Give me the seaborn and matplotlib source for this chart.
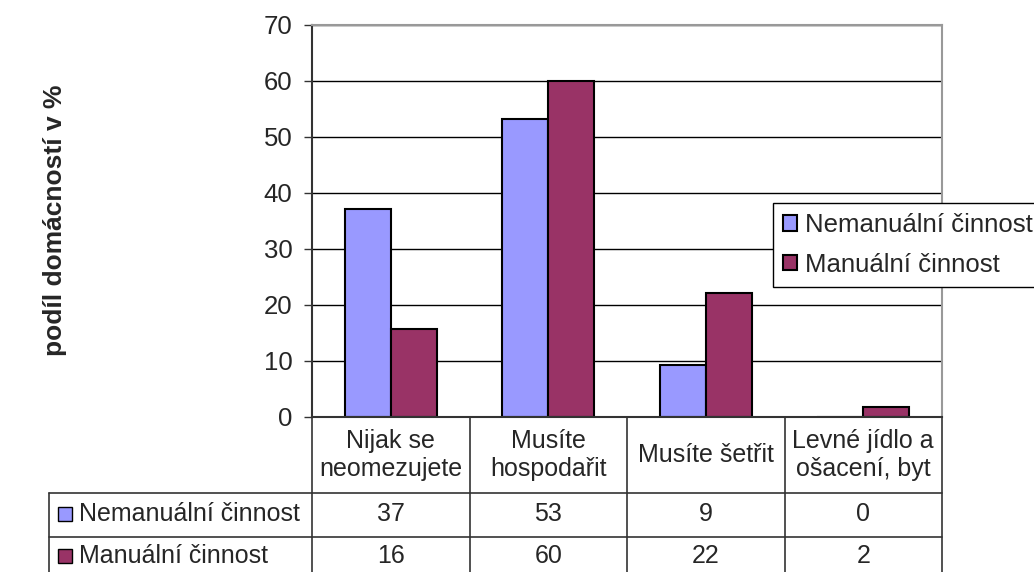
import matplotlib
matplotlib.use("Agg")
import matplotlib.pyplot as plt
import seaborn as sns
import pandas as pd

categories = ["Nijak se\nneomezujete", "Musíte\nhospodařit", "Musíte šetřit", "Levné jídlo a\nošacení, byt"]
groups = ["Nemanuální činnost", "Manuální činnost"]
nemanualni = [37.2, 53.2, 9.3, 0.0]
manualni = [15.8, 60.0, 22.2, 1.7]
table_nemanualni = [37, 53, 9, 0]
table_manualni = [16, 60, 22, 2]
colors = ["#9999FF", "#993366"]

df = pd.DataFrame({
    "kategorie": categories * 2,
    "skupina": [groups[0]] * 4 + [groups[1]] * 4,
    "podil": nemanualni + manualni,
})

sns.set_style("white")
plt.rcParams["font.family"] = ["Liberation Sans", "DejaVu Sans"]
plt.rcParams["font.size"] = 18

fig = plt.figure(figsize=(10.34, 5.72), dpi=100)
W, H = 1034, 572
ax = fig.add_axes([312 / W, 1 - 417 / H, 630 / W, 392 / H])

sns.barplot(data=df, x="kategorie", y="podil", hue="skupina", palette=colors,
            width=0.584, edgecolor="black", linewidth=1.5, ax=ax, saturation=1)

ax.set_xlim(-0.5, 3.5)
ax.set_ylim(0, 70)
ax.set_yticks(range(0, 71, 10))
ax.set_xticks([])
ax.set_xlabel("")
ax.set_ylabel("")
ax.tick_params(axis="y", length=6, width=1, color="#333333", pad=8, labelsize=18.5, left=True)
ax.yaxis.grid(True, color="black", linewidth=1)
ax.set_axisbelow(True)
for s in ["left", "bottom"]:
    ax.spines[s].set_color("#333333")
    ax.spines[s].set_linewidth(1.5)
for s in ["top", "right"]:
    ax.spines[s].set_color("#999999")
    ax.spines[s].set_linewidth(1.5)

# legend
handles, labels = ax.get_legend_handles_labels()
ax.legend(handles, labels, loc="upper left", bbox_to_anchor=(773 / W, 1 - 203 / H),
          bbox_transform=fig.transFigure, frameon=True, fancybox=False, edgecolor="black",
          framealpha=1, fontsize=18.5, handlelength=0.55, handleheight=0.55, handletextpad=0.3,
          borderpad=0.4, labelspacing=0.6, borderaxespad=0)
ax.get_legend().get_frame().set_linewidth(1)

# data table below the axes
def ya(py):
    return (417 - py) / 392

def xa(px):
    return (px - 312) / 630

lc = "#333333"
line_kw = dict(transform=ax.transAxes, clip_on=False, color=lc, linewidth=1.2)
for i in range(5):
    ax.plot([i / 4, i / 4], [0, ya(575)], **line_kw)
ax.plot([xa(49), xa(49)], [ya(493), ya(575)], **line_kw)
for py in [493, 537]:
    ax.plot([xa(49), 1], [ya(py), ya(py)], **line_kw)

for i, cat in enumerate(categories):
    ax.text((i + 0.5) / 4, ya(455), cat, transform=ax.transAxes, ha="center", va="center",
            fontsize=18, linespacing=1.2)
    ax.text((i + 0.5) / 4, ya(514), str(table_nemanualni[i]), transform=ax.transAxes,
            ha="center", va="center", fontsize=18)
    ax.text((i + 0.5) / 4, ya(556), str(table_manualni[i]), transform=ax.transAxes,
            ha="center", va="center", fontsize=18)

for py, g, c in zip([514, 556], groups, colors):
    ax.plot([xa(65)], [ya(py)], marker="s", markersize=10, markerfacecolor=c,
            markeredgecolor="black", markeredgewidth=1, transform=ax.transAxes, clip_on=False)
    ax.text(xa(79), ya(py), g, transform=ax.transAxes, ha="left", va="center", fontsize=18)

fig.text(55 / W, 1 - 220 / H, "podíl domácností v %", rotation=90, ha="center", va="center",
         fontsize=19, fontweight="bold")

fig.savefig("out.png", dpi=100)
